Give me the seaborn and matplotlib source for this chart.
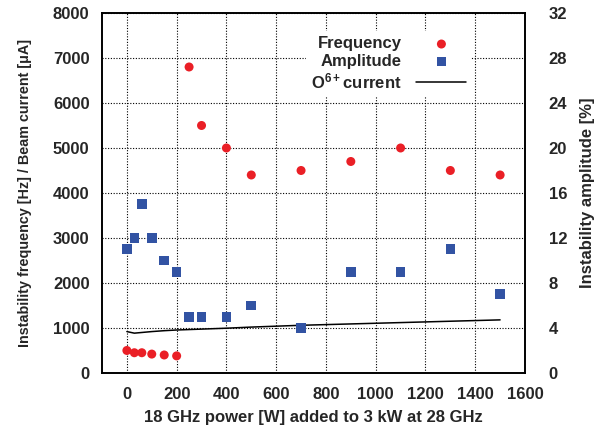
import matplotlib
matplotlib.use("Agg")
import matplotlib.pyplot as plt
import seaborn as sns
import pandas as pd

# ---- data ----
power_freq = [0, 30, 60, 100, 150, 200, 250, 300, 400, 500, 700, 900, 1100, 1300, 1500]
frequency = [500, 450, 450, 420, 400, 380, 6800, 5500, 5000, 4400, 4500, 4700, 5000, 4500, 4400]

power_amp = [0, 30, 60, 100, 150, 200, 250, 300, 400, 500, 700, 900, 1100, 1300, 1500]
amplitude = [11, 12, 15, 12, 10, 9, 5, 5, 5, 6, 4, 9, 9, 11, 7]

power_cur = [0, 30, 60, 100, 150, 200, 300, 400, 500, 700, 900, 1100, 1300, 1500]
current = [920, 885, 900, 920, 940, 955, 975, 995, 1020, 1060, 1090, 1120, 1150, 1180]

x_ticks = [0, 200, 400, 600, 800, 1000, 1200, 1400, 1600]
y_ticks = [0, 1000, 2000, 3000, 4000, 5000, 6000, 7000, 8000]
y2_ticks = [0, 4, 8, 12, 16, 20, 24, 28, 32]

df_f = pd.DataFrame({"p": power_freq, "v": frequency})
df_a = pd.DataFrame({"p": power_amp, "v": amplitude})
df_c = pd.DataFrame({"p": power_cur, "v": current})

sns.set_theme(style="white")
plt.rcParams["font.family"] = ["Liberation Sans", "DejaVu Sans"]
plt.rcParams["font.weight"] = "bold"
plt.rcParams["axes.labelweight"] = "bold"
plt.rcParams["mathtext.fontset"] = "custom"
plt.rcParams["mathtext.rm"] = "Liberation Sans:bold"
plt.rcParams["mathtext.bf"] = "Liberation Sans:bold"
plt.rcParams["mathtext.default"] = "bf"

RED = "#ea1f26"
BLUE = "#3253a3"

fig = plt.figure(figsize=(6.0, 4.3), dpi=100)
ax = fig.add_axes([0.17, 0.1326, 0.705, 0.8372])
ax2 = ax.twinx()

cur_label = "O$^{6+}$current"
sns.lineplot(data=df_c, x="p", y="v", ax=ax, color="black", linewidth=1.1,
             label=cur_label, legend=False, zorder=3)
sns.scatterplot(data=df_f, x="p", y="v", ax=ax, color=RED, s=42, marker="o",
                edgecolor="none", label="Frequency", legend=False, zorder=4)
sns.scatterplot(data=df_a, x="p", y="v", ax=ax2, color=BLUE, s=48, marker="s",
                edgecolor="none", label="Amplitude", legend=False, zorder=4)

ax.set_xlim(-100, 1600)
ax.set_ylim(0, 8000)
ax2.set_ylim(0, 32)
ax.set_xticks(x_ticks)
ax.set_yticks(y_ticks)
ax2.set_yticks(y2_ticks)

ax.grid(True, color="black", linestyle=(0, (1, 1.5)), linewidth=0.8)
ax.set_axisbelow(True)
ax2.grid(False)

for a in (ax, ax2):
    a.tick_params(length=0, labelsize=12)
    for sp in a.spines.values():
        sp.set_color("black")
        sp.set_linewidth(1.2)
ax.tick_params(axis="y", pad=9)
ax.tick_params(axis="x", pad=10)
ax2.tick_params(axis="y", pad=17)

ax.set_xlabel("18 GHz power [W] added to 3 kW at 28 GHz", fontsize=12, labelpad=6)
ax.set_ylabel("Instability frequency [Hz] / Beam current [μA]", fontsize=10.4, labelpad=15)
ax2.set_ylabel("Instability amplitude [%]", fontsize=12, labelpad=9)

h1, l1 = ax.get_legend_handles_labels()
h2, l2 = ax2.get_legend_handles_labels()
hd = dict(zip(l1 + l2, h1 + h2))
order = ["Frequency", "Amplitude", cur_label]
leg = ax2.legend([hd[k] for k in order], order, loc="upper right",
                 bbox_to_anchor=(0.893, 0.972), markerfirst=False, frameon=True,
                 fontsize=12, handlelength=3.0, handletextpad=0.9,
                 labelspacing=0.15, borderpad=0.3, fancybox=False)
leg.get_frame().set_facecolor("white")
leg.get_frame().set_edgecolor("none")
leg.get_frame().set_alpha(1.0)

fig.savefig("out.png", dpi=100)
